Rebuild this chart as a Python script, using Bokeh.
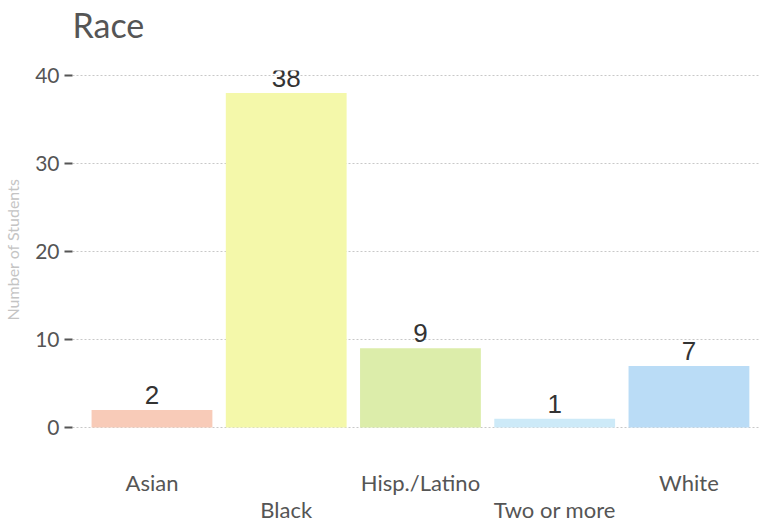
from bokeh.plotting import figure
from bokeh.models import ColumnDataSource, Range1d, LabelSet, FixedTicker, LinearAxis, Title
from bokeh.core.properties import value
from bokeh.embed import file_html
from bokeh.resources import INLINE

categories = ["Asian", "Black", "Hisp./Latino", "Two or more", "White"]
counts = [2, 38, 9, 1, 7]
colors = ["#f8cbb8", "#f4f8aa", "#dcedaa", "#cdeaf8", "#badcf6"]
y_ticks = [0, 10, 20, 30, 40]

xs = list(range(len(categories)))
src = ColumnDataSource(dict(x=xs, cat=categories, n=counts, c=colors,
                            lab=[str(v) for v in counts]))

p = figure(width=760, height=525, output_backend="svg", toolbar_location=None,
           x_range=Range1d(-0.592, 4.533), y_range=Range1d(-0.11, 40.57),
           title="Race", min_border_left=72, min_border_right=0,
           min_border_top=70, min_border_bottom=95, x_axis_location=None)
p.outline_line_color = None

p.title.text_font = "Lato"
p.title.text_font_size = "34px"
p.title.text_font_style = "normal"
p.title.text_color = "#555555"
p.title.offset = 0
p.title.vertical_align = "top"
p.title.standoff = 0

# empty spacer between the title and the plot area
p.add_layout(Title(text=" ", text_font_size="10px", standoff=11), "above")

p.vbar(x="x", top="n", width=0.9, bottom=0, source=src, fill_color="c", line_color=None)

p.xgrid.visible = False
p.ygrid.grid_line_color = "#c8c8c8"
p.ygrid.grid_line_dash = "2 2"
p.ygrid.grid_line_width = 1

ya = p.yaxis[0]
ya.ticker = FixedTicker(ticks=y_ticks)
ya.axis_line_color = None
ya.major_tick_in = 0
ya.major_tick_out = 8
ya.major_tick_line_width = 2
ya.major_tick_line_color = "#555555"
ya.minor_tick_line_color = None
ya.major_label_text_font = "Lato"
ya.major_label_text_font_size = "21px"
ya.major_label_text_color = "#555555"
ya.major_label_standoff = 5
ya.axis_label = "Number of Students"
ya.axis_label_text_font = "Lato"
ya.axis_label_text_font_size = "16px"
ya.axis_label_text_font_style = "normal"
ya.axis_label_text_color = "#c4c4c4"
ya.axis_label_standoff = 10


def cat_axis(idx, standoff):
    ax = LinearAxis(ticker=FixedTicker(ticks=[xs[i] for i in idx]),
                    major_label_overrides={xs[i]: categories[i] for i in idx})
    ax.axis_line_color = None
    ax.major_tick_line_color = None
    ax.minor_tick_line_color = None
    ax.major_tick_in = 0
    ax.major_tick_out = 0
    ax.major_label_standoff = standoff
    ax.major_label_text_font = "Lato"
    ax.major_label_text_font_size = "22px"
    ax.major_label_text_color = "#555555"
    return ax


p.add_layout(cat_axis(range(0, len(xs), 2), 40), "below")
p.add_layout(cat_axis(range(1, len(xs), 2), -3), "below")

vals = LabelSet(x="x", y="n", text="lab", source=src, text_align="center",
                text_baseline="alphabetic", y_offset=6, text_font=value("Liberation Sans"),
                text_font_size=value("26px"), text_color=value("#333333"))
p.add_layout(vals)

open("out.html", "w").write(file_html(p, INLINE))
